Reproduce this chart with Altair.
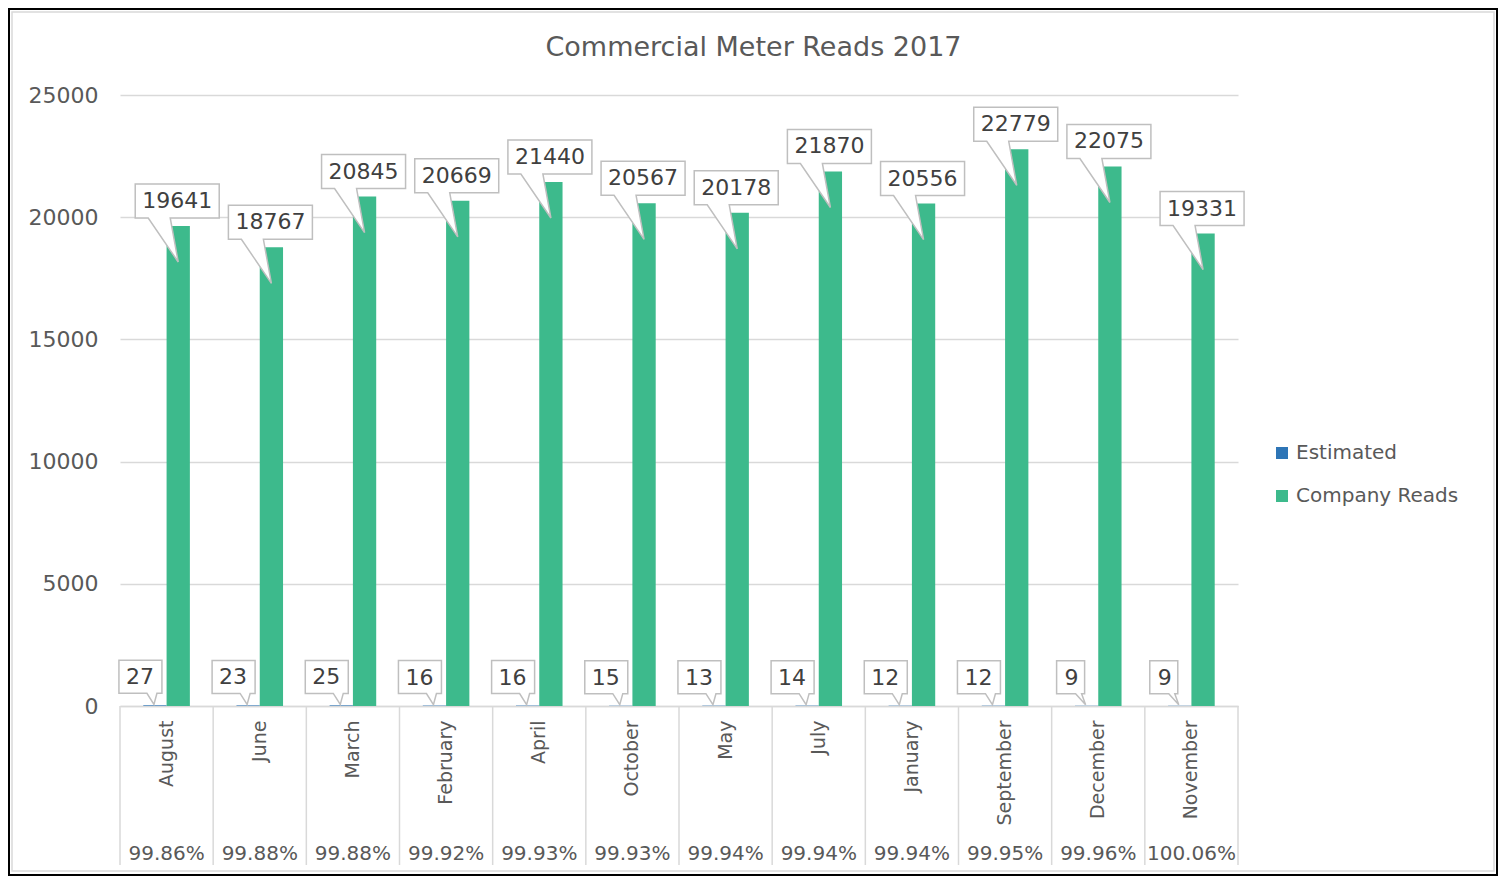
import altair as alt
import pandas as pd

# ---------------- data ----------------
chart_title = "Commercial Meter Reads 2017"
months = ["August", "June", "March", "February", "April", "October",
          "May", "July", "January", "September", "December", "November"]
company_reads = [19641, 18767, 20845, 20669, 21440, 20567,
                 20178, 21870, 20556, 22779, 22075, 19331]
estimated = [27, 23, 25, 16, 16, 15, 13, 14, 12, 12, 9, 9]
pct_labels = ["99.86%", "99.88%", "99.88%", "99.92%", "99.93%", "99.93%",
              "99.94%", "99.94%", "99.94%", "99.95%", "99.96%", "100.06%"]
series_names = ["Estimated", "Company Reads"]
series_colors = ["#2e75b6", "#3dba8c"]
y_ticks = [0, 5000, 10000, 15000, 20000, 25000]

rows = []
for m, c, e, p in zip(months, company_reads, estimated, pct_labels):
    rows.append({"month": m, "series": "Estimated", "value": e, "pct": p, "label": str(e)})
    rows.append({"month": m, "series": "Company Reads", "value": c, "pct": p, "label": str(c)})
df = pd.DataFrame(rows)
df["kind"] = df["label"].str.len().map({1: "one", 2: "two", 5: "five"})

# ---------------- styling ----------------
FONT = "DejaVu Sans"
TXT = "#595959"
GRID = "#d9d9d9"
W, H = 1118, 611

callout_paths = {
    "five": "M-43,-42H41V-8H-8L0,36L-30,-8H-43Z",
    "two": "M-36,-45H7V-12H2L-1,-1L-8,-12H-36Z",
    "one": "M-30,-45H-2V-12H-5L-1,-1L-11,-12H-30Z",
}

x_axis = alt.Axis(title=None, labelAngle=-90, labelFontSize=19, labelColor=TXT,
                  labelFont=FONT, labelPadding=14, ticks=False,
                  domainColor=GRID, domainWidth=1.5)
x_scale = alt.Scale(paddingInner=0, paddingOuter=0)
x_enc = alt.X("month:N", sort=months, scale=x_scale, axis=x_axis)
xoff = alt.XOffset("series:N", sort=series_names,
                   scale=alt.Scale(paddingInner=0, paddingOuter=1))
y_enc = alt.Y("value:Q", scale=alt.Scale(domain=[0, 25000], nice=False),
              axis=alt.Axis(title=None, values=y_ticks, format="d", labelFontSize=22,
                            labelColor=TXT, labelFont=FONT, labelPadding=22,
                            ticks=False, domain=False, gridColor=GRID,
                            gridWidth=1.5))

base = alt.Chart(df)
dummy = alt.Chart(alt.Data(values=[{}]))

outer = dummy.mark_rect(fill="transparent", stroke="#000000", strokeWidth=2).encode(
    x=alt.value(-111), x2=alt.value(1377), y=alt.value(-86), y2=alt.value(780))
inner = dummy.mark_rect(fill="transparent", stroke=GRID, strokeWidth=1.5).encode(
    x=alt.value(-108), x2=alt.value(1374), y=alt.value(-83), y2=alt.value(776))

bars = base.mark_bar().encode(
    x=x_enc, xOffset=xoff, y=y_enc,
    color=alt.Color("series:N", sort=series_names,
                    scale=alt.Scale(domain=series_names, range=series_colors),
                    legend=alt.Legend(title=None, orient="none", direction="vertical",
                                      legendX=1152, legendY=348, symbolType="square",
                                      symbolSize=144, symbolStrokeWidth=0,
                                      labelFontSize=20, labelFont=FONT,
                                      labelColor=TXT, rowPadding=23, labelLimit=400,
                                      labelOffset=4, padding=0)))

seps = base.transform_filter(alt.datum.series == "Company Reads").mark_rule(
    color=GRID, strokeWidth=1.5).encode(
    x=alt.X("month:N", sort=months, scale=x_scale, axis=x_axis, bandPosition=0),
    y=alt.value(H), y2=alt.value(H + 159))
last_sep = dummy.mark_rule(color=GRID, strokeWidth=1.5).encode(
    x=alt.value(W), y=alt.value(H), y2=alt.value(H + 159))

pct_text = base.transform_filter(alt.datum.series == "Company Reads").mark_text(
    fontSize=20, font=FONT, color=TXT).encode(
    x=x_enc, y=alt.value(H + 148), text="pct:N")

callouts = base.mark_point(filled=True, fill="white", stroke="#bfbfbf",
                           strokeWidth=1.5, opacity=1, size=4).encode(
    x=x_enc, xOffset=xoff, y=y_enc,
    shape=alt.Shape("kind:N",
                    scale=alt.Scale(domain=list(callout_paths.keys()),
                                    range=list(callout_paths.values())),
                    legend=None))

big_text = base.transform_filter(alt.datum.series == "Company Reads").mark_text(
    dx=-1, dy=-25, fontSize=22, font=FONT, color="#404040").encode(
    x=x_enc, xOffset=xoff, y=y_enc, text="label:N")
small_text = base.transform_filter(alt.datum.series == "Estimated").mark_text(
    dx=-15, dy=-28, fontSize=22, font=FONT, color="#404040").encode(
    x=x_enc, xOffset=xoff, y=y_enc, text="label:N")

title = dummy.mark_text(fontSize=27, font=FONT, color=TXT).encode(
    x=alt.value(633.5), y=alt.value(-47), text=alt.value(chart_title))

chart = alt.layer(
    outer, inner, bars, seps, last_sep, pct_text, callouts, big_text, small_text, title
).properties(
    width=W, height=H,
    autosize=alt.AutoSizeParams(type="none"),
    padding={"left": 112, "top": 87, "right": 260, "bottom": 170},
).configure_view(strokeWidth=0)

chart.save("out.html", embed_options={"renderer": "svg", "actions": False})
